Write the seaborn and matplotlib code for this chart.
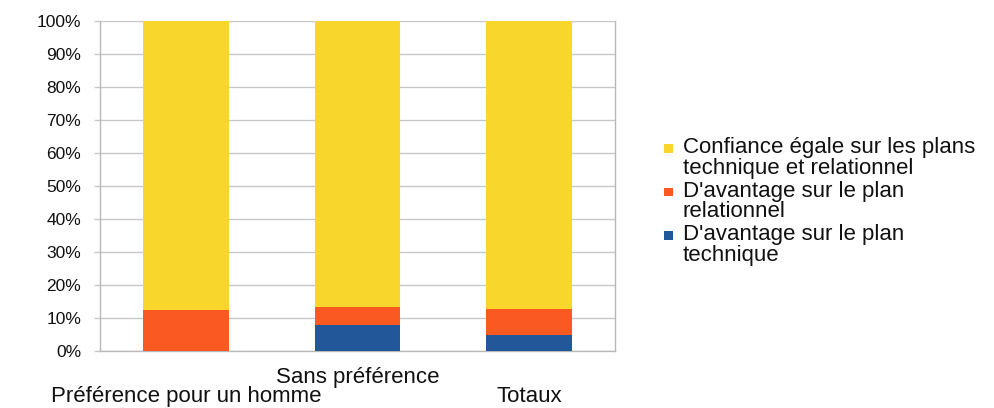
import matplotlib
matplotlib.use("Agg")
import matplotlib.pyplot as plt
import matplotlib.transforms as mtransforms
import seaborn as sns
import pandas as pd
import numpy as np
from matplotlib.patches import Patch, Rectangle
from matplotlib.legend_handler import HandlerPatch
from matplotlib.ticker import FixedLocator, FuncFormatter

categories = ["Préférence pour un homme", "Sans préférence", "Totaux"]
technique = [0.0, 7.9, 4.8]
relationnel = [12.4, 5.4, 7.9]
egale = [87.6, 86.7, 87.3]
series_labels = ["Confiance égale sur les plans\ntechnique et relationnel",
                 "D'avantage sur le plan\nrelationnel",
                 "D'avantage sur le plan\ntechnique"]
colors = ["#F8D62C", "#FA5A22", "#22579A"]

df = pd.DataFrame({"cat": categories, "tech": technique,
                   "rel": relationnel, "eq": egale})
df["top_rel"] = df["tech"] + df["rel"]
df["top_eq"] = df["top_rel"] + df["eq"]

sns.set_style("white")
plt.rcParams["font.family"] = ["Liberation Sans", "DejaVu Sans"]

fig = plt.figure(figsize=(9.95, 4.08), dpi=100)
ax = fig.add_axes([100/995, 57/408, 515/995, 330/408])

sns.barplot(data=df, x="cat", y="top_eq", color=colors[0], width=0.5,
            saturation=1, ax=ax, zorder=2)
sns.barplot(data=df, x="cat", y="top_rel", color=colors[1], width=0.5,
            saturation=1, ax=ax, zorder=3)
sns.barplot(data=df, x="cat", y="tech", color=colors[2], width=0.5,
            saturation=1, ax=ax, zorder=4)
for p in ax.patches:
    p.set_linewidth(0)

ax.set_xlim(-0.5, 2.5)
ax.set_ylim(0, 100)
ax.set_xlabel("")
ax.set_ylabel("")

ax.yaxis.set_major_locator(FixedLocator(np.arange(0, 101, 10)))
ax.yaxis.set_major_formatter(FuncFormatter(lambda v, _: f"{int(round(v))}%"))
ax.grid(axis="y", color="#c8c8c8", linewidth=1, zorder=0)
ax.set_axisbelow(True)

ax.set_xticks(range(len(categories)))
ax.set_xticklabels(categories)
ax.xaxis.set_minor_locator(FixedLocator([-0.5, 0.5, 1.5, 2.5]))
ax.tick_params(axis="x", which="major", length=0, pad=11.5, labelsize=16,
               labelcolor="#111111")
ax.tick_params(axis="x", which="minor", length=6, color="#b0b0b0", width=1)
ax.tick_params(axis="y", which="major", length=4.5, color="#c8c8c8", width=1,
               pad=9, labelsize=12.5, labelcolor="#111111")
ax.tick_params(left=True, bottom=True)

# stagger: first and last category labels one line lower
down = mtransforms.ScaledTranslation(0, -19 / 100, fig.dpi_scale_trans)
for i, lab in enumerate(ax.get_xticklabels()):
    if i != 1:
        lab.set_transform(lab.get_transform() + down)

for s in ["left", "bottom", "right", "top"]:
    ax.spines[s].set_color("#b8b8b8")
    ax.spines[s].set_linewidth(1)
ax.spines["top"].set_visible(False)


def first_line_square(legend, orig_handle, xdescent, ydescent, width, height, fontsize):
    side = 0.4 * fontsize
    x0 = -xdescent + (width - side) / 2
    y0 = -ydescent + (height - side) / 2 + 0.44 * fontsize
    return Rectangle((x0, y0), side, side)


handles = [Patch(facecolor=c, edgecolor="none") for c in colors]
leg = fig.legend(handles, series_labels, loc="upper left",
                 bbox_to_anchor=(663/995, 1 - 137/408),
                 frameon=False, fontsize=16, handlelength=0.5,
                 handleheight=0.7, handletextpad=0.4, labelspacing=0.1,
                 borderaxespad=0, borderpad=0,
                 handler_map={Patch: HandlerPatch(patch_func=first_line_square)})
for t in leg.get_texts():
    t.set_linespacing(0.97)
    t.set_color("#111111")

fig.savefig("out.png", dpi=100)
